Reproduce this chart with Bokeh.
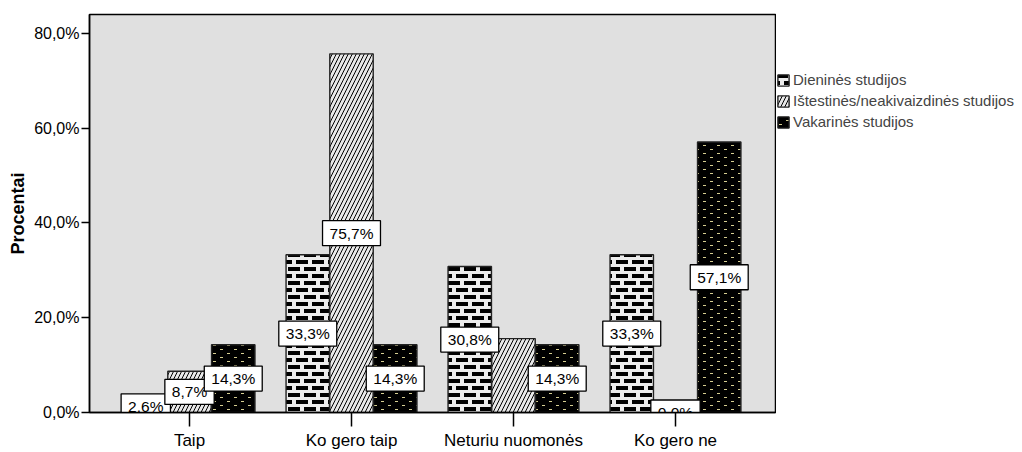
import zlib, struct, base64
from bokeh.plotting import figure
from bokeh.layouts import row
from bokeh.models import (ColumnDataSource, FactorRange, Legend, LegendItem,
                          FixedTicker, ImageURLTexture)
from bokeh.transform import dodge
from bokeh.core.properties import value
from bokeh.embed import file_html
from bokeh.resources import INLINE

# ---------------- data ----------------
categories = ["Taip", "Ko gero taip", "Neturiu nuomonės", "Ko gero ne"]
series_names = ["Dieninės studijos",
                "Ištestinės/neakivaizdinės studijos",
                "Vakarinės studijos"]
dienines = [2.6, 33.3, 30.8, 33.3]
istestines = [8.7, 75.7, 15.6, 0.0]
vakarines = [14.3, 14.3, 14.3, 57.1]
label_shown_istestines = [True, True, False, True]
y_ticks = [0, 20, 40, 60, 80]
y_tick_labels = ["0,0%", "20,0%", "40,0%", "60,0%", "80,0%"]

FONT = "Liberation Sans"

def fmt(v):
    return f"{v:.1f}".replace(".", ",") + "%"

src = ColumnDataSource(dict(cat=categories, d=dienines, i=istestines, v=vakarines))

def label_source(vals, shown=None):
    shown = shown or [True] * len(vals)
    keep = [k for k, s in enumerate(shown) if s]
    return ColumnDataSource(dict(cat=[categories[k] for k in keep],
                                 mid=[vals[k] / 2 for k in keep],
                                 lab=[fmt(vals[k]) for k in keep]))

# ---------------- pattern tiles (PNG data URLs) ----------------
def png_url(w, h, pix):
    raw = b"".join(b"\x00" + bytes(c for px in r for c in px) for r in pix)
    def chunk(t, d):
        return (struct.pack(">I", len(d)) + t + d +
                struct.pack(">I", zlib.crc32(t + d) & 0xffffffff))
    png = (b"\x89PNG\r\n\x1a\n" +
           chunk(b"IHDR", struct.pack(">IIBBBBB", w, h, 8, 6, 0, 0, 0)) +
           chunk(b"IDAT", zlib.compress(raw)) + chunk(b"IEND", b""))
    return "data:image/png;base64," + base64.b64encode(png).decode()

def tile(w, h, rects, color):
    pix = [[(0, 0, 0, 0)] * w for _ in range(h)]
    for (x0, y0, rw, rh) in rects:
        for yy in range(y0, y0 + rh):
            for xx in range(x0, x0 + rw):
                pix[yy % h][xx % w] = color
    return png_url(w, h, pix)

brick = ImageURLTexture(url=tile(16, 14, [(0, 1, 12, 4), (8, 8, 12, 4)],
                                 (0, 0, 0, 255)))
dots = ImageURLTexture(url=tile(14, 8, [(3, 1, 3, 1), (10, 5, 3, 1)],
                                (214, 206, 146, 255)))

D_STYLE = dict(fill_color="#ececec", hatch_pattern=value("brick"),
               hatch_extra={"brick": brick})
I_STYLE = dict(fill_color="#e8e8e8", hatch_pattern="/", hatch_color="black",
               hatch_scale=8, hatch_weight=1.0)
V_STYLE = dict(fill_color="#000000", hatch_pattern=value("dots"),
               hatch_extra={"dots": dots})
LINE = dict(line_color="#222222", line_width=1.4)

# ---------------- main figure ----------------
p = figure(x_range=FactorRange(*categories, range_padding=0.0587),
           y_range=(0, 84),
           width=776, height=452,
           min_border_left=89, min_border_top=14, min_border_bottom=40,
           min_border_right=1,
           output_backend="svg", toolbar_location=None)

p.background_fill_color = "#e0e0e0"
p.border_fill_color = "white"
p.outline_line_color = "black"
p.outline_line_width = 1.5
p.xgrid.visible = False
p.ygrid.visible = False

W = 0.268
OFF = 0.27
p.vbar(x=dodge("cat", -OFF, range=p.x_range), top="d", source=src, width=W,
       bottom=0, **D_STYLE, **LINE)
p.vbar(x=dodge("cat", 0, range=p.x_range), top="i", source=src, width=W,
       bottom=0, **I_STYLE, **LINE)
p.vbar(x=dodge("cat", OFF, range=p.x_range), top="v", source=src, width=W,
       bottom=0, **V_STYLE, **LINE)

lab = dict(text_align="center", text_baseline="middle",
           text_font=value(FONT), text_font_size="15.5px", text_color="black",
           background_fill_color="white", border_line_color="black",
           border_line_width=1.3, padding=(7, 4))
for vals, shown, off in [(dienines, None, -OFF),
                         (istestines, label_shown_istestines, 0),
                         (vakarines, None, OFF)]:
    p.text(x=dodge("cat", off, range=p.x_range), y="mid", text="lab",
           source=label_source(vals, shown), **lab)

# axes
xa = p.xaxis[0]
xa.axis_line_color = "black"
xa.axis_line_width = 1.5
xa.major_tick_line_color = "black"
xa.major_tick_line_width = 1.5
xa.major_tick_out = 14
xa.major_tick_in = 0
xa.major_label_standoff = 4
xa.major_label_text_font = FONT
xa.major_label_text_font_size = "17px"
xa.major_label_text_color = "black"

ya = p.yaxis[0]
ya.ticker = FixedTicker(ticks=y_ticks)
ya.major_label_overrides = {t: l for t, l in zip(y_ticks, y_tick_labels)}
ya.axis_line_color = "black"
ya.axis_line_width = 1.5
ya.major_tick_line_color = "black"
ya.major_tick_line_width = 1.5
ya.major_tick_out = 8
ya.major_tick_in = 0
ya.minor_tick_line_color = None
ya.major_label_standoff = 2
ya.major_label_text_font = FONT
ya.major_label_text_font_size = "16px"
ya.major_label_text_color = "black"
ya.axis_label = "Procentai"
ya.axis_label_text_font = FONT
ya.axis_label_text_font_style = "bold"
ya.axis_label_text_font_size = "18px"
ya.axis_label_standoff = 3
ya.axis_label_text_color = "black"

# ---------------- legend panel ----------------
q = figure(width=246, height=452,
           x_range=FactorRange("legend"), y_range=(0, 1),
           x_axis_location=None, y_axis_location=None,
           min_border_left=0, min_border_right=0, min_border_top=0,
           min_border_bottom=0, output_backend="svg", toolbar_location=None)
q.outline_line_color = None
q.background_fill_color = "white"
q.border_fill_color = "white"
q.grid.visible = False
lr_d = q.vbar(x="cat", top="d", width=W, source=src, **D_STYLE, **LINE)
lr_i = q.vbar(x="cat", top="i", width=W, source=src, **I_STYLE, **LINE)
lr_v = q.vbar(x="cat", top="v", width=W, source=src, **V_STYLE, **LINE)

legend = Legend(items=[LegendItem(label=series_names[0], renderers=[lr_d]),
                       LegendItem(label=series_names[1], renderers=[lr_i]),
                       LegendItem(label=series_names[2], renderers=[lr_v])],
                location=(0, 282), orientation="vertical",
                glyph_width=14, glyph_height=14, label_height=14,
                label_standoff=3, spacing=4, padding=0, margin=0,
                label_text_font=FONT, label_text_font_size="15px",
                border_line_color=None, background_fill_alpha=0)
q.add_layout(legend)

layout = row(p, q, spacing=0)
open("out.html", "w").write(file_html(layout, INLINE))
